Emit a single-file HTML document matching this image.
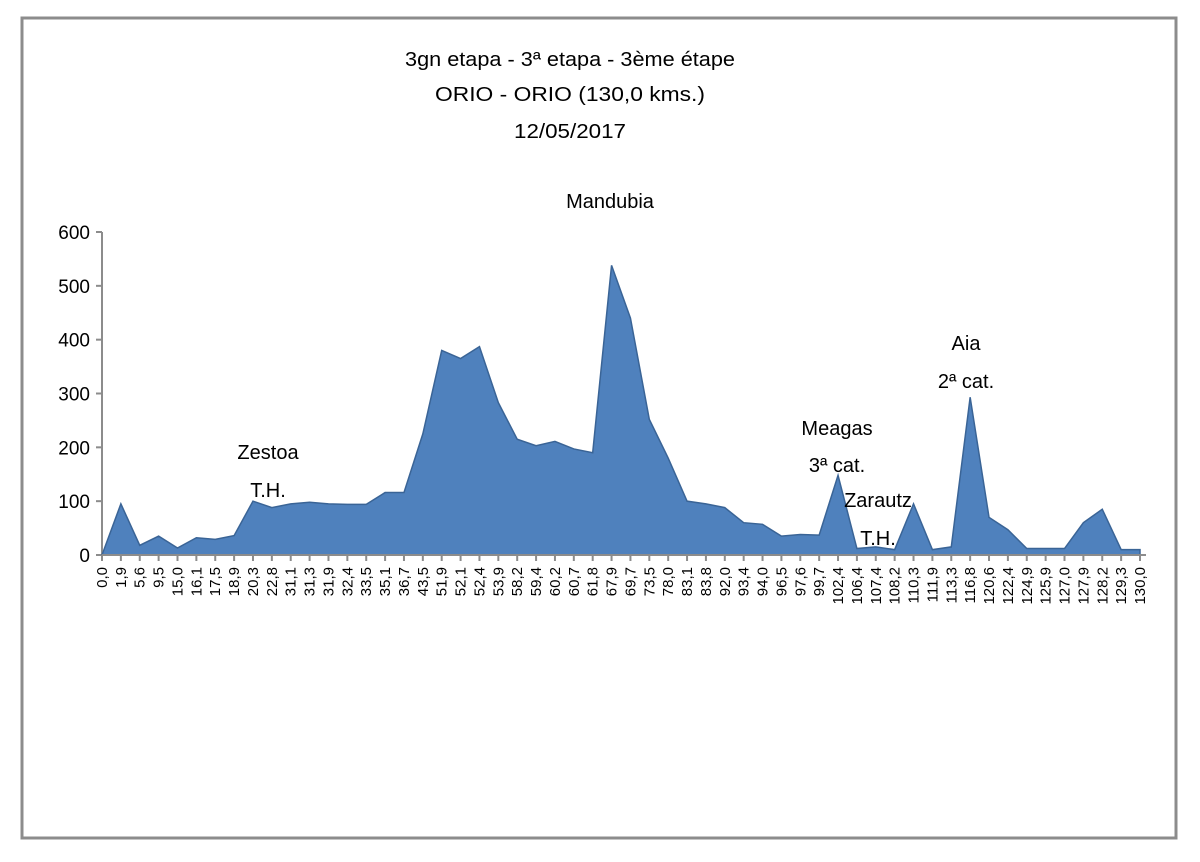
<!DOCTYPE html>
<html><head><meta charset="utf-8">
<style>
body{margin:0;background:#fff;}
svg text{font-family:"Liberation Sans",sans-serif;fill:#000;}
</style></head>
<body>
<svg id="chart" width="1200" height="857" xmlns="http://www.w3.org/2000/svg">
<rect x="22" y="18" width="1154" height="820" fill="#fff" stroke="#8c8c8c" stroke-width="3"/>
<g font-size="20" text-anchor="middle">
<text x="570" y="66" textLength="330" lengthAdjust="spacingAndGlyphs">3gn etapa - 3ª etapa - 3ème étape</text>
<text x="570" y="101" textLength="270" lengthAdjust="spacingAndGlyphs">ORIO - ORIO (130,0 kms.)</text>
<text x="570" y="138" textLength="112" lengthAdjust="spacingAndGlyphs">12/05/2017</text>
</g>
<g id="plot"></g>
<g font-size="20" text-anchor="middle">
<text x="610" y="208">Mandubia</text>
<text x="268" y="459">Zestoa</text>
<text x="268" y="497">T.H.</text>
<text x="837" y="435">Meagas</text>
<text x="837" y="472">3ª cat.</text>
<text x="878" y="507">Zarautz</text>
<text x="878" y="545">T.H.</text>
<text x="966" y="350">Aia</text>
<text x="966" y="388">2ª cat.</text>
</g>
</svg>
<script>
const categories=["0,0","1,9","5,6","9,5","15,0","16,1","17,5","18,9","20,3","22,8","31,1","31,3","31,9","32,4","33,5","35,1","36,7","43,5","51,9","52,1","52,4","53,9","58,2","59,4","60,2","60,7","61,8","67,9","69,7","73,5","78,0","83,1","83,8","92,0","93,4","94,0","96,5","97,6","99,7","102,4","106,4","107,4","108,2","110,3","111,9","113,3","116,8","120,6","122,4","124,9","125,9","127,0","127,9","128,2","129,3","130,0"];
const altitudes=[0,95,18,35,13,32,29,36,100,88,95,98,95,94,94,116,116,225,380,365,387,283,215,203,211,197,190,538,440,252,180,100,95,88,60,57,35,38,37,148,12,15,10,95,10,15,293,70,47,12,12,12,60,85,10,10];
const yTicks=[0,100,200,300,400,500,600];
const NS="http://www.w3.org/2000/svg";
const g=document.getElementById('plot');
const x0=102,x1=1140,yBase=555,yTop=232,yMax=600;
const xs=i=>x0+(x1-x0)*i/(categories.length-1);
const ys=v=>yBase-(yBase-yTop)*v/yMax;
function mk(t,a){const e=document.createElementNS(NS,t);for(const k in a)e.setAttribute(k,a[k]);g.appendChild(e);return e;}
// y axis
const ya=mk('line',{x1:x0,y1:yTop,x2:x0,y2:yBase,stroke:'#8c8c8c','stroke-width':2});


yTicks.forEach(v=>{
 const t=mk('line',{x1:x0-6,y1:ys(v),x2:x0,y2:ys(v),stroke:'#8c8c8c','stroke-width':2});
 
 
 const l=mk('text',{x:x0-12,y:ys(v)+7,'text-anchor':'end','font-size':19});
 l.textContent=v;
 
 
});
// area
let d='M'+xs(0)+','+ys(0);
altitudes.forEach((v,i)=>{d+=' L'+xs(i)+','+ys(v);});
d+=' L'+xs(altitudes.length-1)+','+ys(0)+' Z';
const area=mk('path',{d:d,fill:'#4f81bd',stroke:'#3a6496','stroke-width':1.5});


// x axis
const xa=mk('line',{x1:x0,y1:yBase,x2:x1+6,y2:yBase,stroke:'#8c8c8c','stroke-width':2});


categories.forEach((c,i)=>{
 const t=mk('line',{x1:xs(i),y1:yBase,x2:xs(i),y2:yBase+6,stroke:'#8c8c8c','stroke-width':2});
 
 
 const l=mk('text',{x:0,y:0,'text-anchor':'end','font-size':15,transform:'translate('+(xs(i)+5)+','+(yBase+12)+') rotate(-90)'});
 l.textContent=c;
 
 
});
</script>
</body></html>
